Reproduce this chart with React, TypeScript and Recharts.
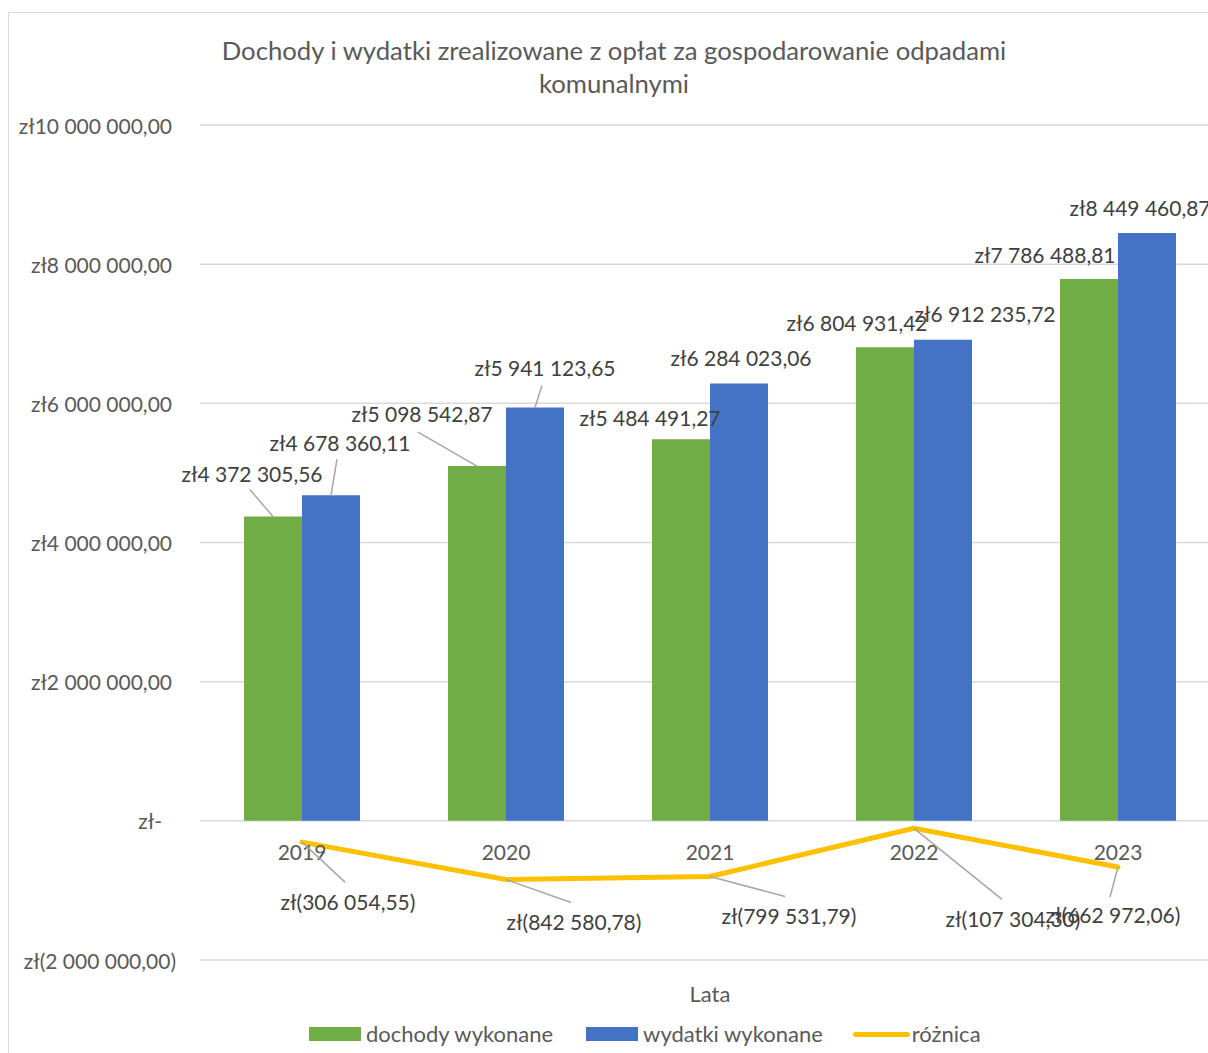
import React from "react";
import {
  ComposedChart,
  Bar,
  Line,
  XAxis,
  YAxis,
  CartesianGrid,
  LabelList,
} from "recharts";

const years = ["2019", "2020", "2021", "2022", "2023"];
const dochody = [4372305.56, 5098542.87, 5484491.27, 6804931.42, 7786488.81];
const wydatki = [4678360.11, 5941123.65, 6284023.06, 6912235.72, 8449460.87];
const roznica = [-306054.55, -842580.78, -799531.79, -107304.3, -662972.06];
const yTicks = [-2000000, 0, 2000000, 4000000, 6000000, 8000000, 10000000];

const FONT = "Lato, 'Open Sans', sans-serif";
const TXT = "#595959";
const LBL = "#404040";
const GREEN = "#70AD47";
const BLUE = "#4472C4";
const YELLOW = "#FFC000";

// label placement: [dx, dy, leaderDx, leaderDy, showLeader] relative to anchor / label centre
const greenPos = [
  [-21, -43, -2, 16, 1],
  [-55, -53, -4, 19, 1],
  [-31, -22, 0, 0, 0],
  [-28, -25, 0, 0, 0],
  [-44, -25, 0, 0, 0],
];
const bluePos = [
  [9, -53, -3, 17, 1],
  [10, -40, -3, 18, 1],
  [2, -26, 0, 0, 0],
  [42, -26, 0, 0, 0],
  [-7, -25, 0, 0, 0],
];
const linePos = [
  [46, 59, -3, -19, 1],
  [68, 42, -3, -19, 1],
  [79, 39, -4, -19, 1],
  [99, 90, -11, -19, 1],
  [-5, 48, -3, -18, 1],
];

const fmt = (v: number) => {
  if (v === 0) return "zł-";
  const [i, d] = Math.abs(v).toFixed(2).split(".");
  const s = i.replace(/\B(?=(\d{3})+(?!\d))/g, " ") + "," + d;
  return v < 0 ? `zł(${s})` : `zł${s}`;
};

const data = years.map((y, i) => ({
  year: y,
  dochody: dochody[i],
  wydatki: wydatki[i],
  roznica: roznica[i],
}));

const makeLabel = (pos: number[][], isBar: boolean) => (props: any) => {
  const { x, y, width, value, index } = props;
  const ax = isBar ? Number(x) + Number(width) / 2 : Number(x);
  const ay = Number(y);
  const p = pos[index];
  const cx = ax + p[0];
  const cy = ay + p[1];
  return (
    <g>
      {p[4] ? (
        <line x1={ax} y1={ay} x2={cx + p[2]} y2={cy + p[3]} stroke="#A6A6A6" strokeWidth={1.5} />
      ) : null}
      <text
        x={cx}
        y={cy}
        textAnchor="middle"
        dominantBaseline="central"
        fill={LBL}
        fontSize={21}
        fontFamily={FONT}
      >
        {fmt(value)}
      </text>
    </g>
  );
};

const YTick = (props: any) => {
  const { x, y, payload } = props;
  const v = payload.value;
  const dx = v === 0 ? -38 : v < 0 ? -24 : -28;
  return (
    <text x={x + dx} y={y} textAnchor="end" dominantBaseline="central" fill={TXT} fontSize={21} fontFamily={FONT}>
      {fmt(v)}
    </text>
  );
};

const XTick = (props: any) => {
  const { x, y, payload } = props;
  return (
    <text x={x} y={y - 109} textAnchor="middle" dominantBaseline="central" fill={TXT} fontSize={21} fontFamily={FONT}>
      {payload.value}
    </text>
  );
};

const legendItems = [
  { name: "dochody wykonane", color: GREEN, type: "rect", gap: 33 },
  { name: "wydatki wykonane", color: BLUE, type: "rect", gap: 30 },
  { name: "różnica", color: YELLOW, type: "line", gap: 0 },
];

export default function App() {
  return (
    <div style={{ position: "fixed", left: 0, top: 0, width: 1208, height: 1053, overflow: "hidden", background: "#fff" }}>
      <div style={{ position: "absolute", left: 8, top: 8, width: 1240, height: 1100, fontFamily: FONT }}>
        <div
          style={{
            position: "absolute",
            left: 0,
            top: 4,
            width: 1230,
            height: 1100,
            border: "1px solid #D9D9D9",
            boxSizing: "border-box",
          }}
        />
        <div
          style={{
            position: "absolute",
            left: 0,
            top: 26,
            width: 1212,
            textAlign: "center",
            color: TXT,
            fontSize: 25.7,
            lineHeight: "33px",
          }}
        >
          Dochody i wydatki zrealizowane z opłat za gospodarowanie odpadami
          <br />
          komunalnymi
        </div>
        <div style={{ position: "absolute", left: 0, top: 0 }}>
          <ComposedChart
            width={1240}
            height={1060}
            data={data}
            margin={{ top: 117, right: 28, left: 0, bottom: 0 }}
            barGap={0}
          >
            <CartesianGrid vertical={false} stroke="#D9D9D9" strokeWidth={1.5} />
            <XAxis
              dataKey="year"
              height={108}
              axisLine={false}
              tickLine={false}
              tickSize={0}
              tickMargin={0}
              tick={<XTick />}
              label={{ value: "Lata", position: "insideTop", offset: 26, fill: TXT, fontSize: 22, fontFamily: FONT }}
            />
            <YAxis
              width={192}
              domain={[-2000000, 10000000]}
              ticks={yTicks}
              axisLine={false}
              tickLine={false}
              tickSize={0}
              tickMargin={0}
              tick={<YTick />}
            />
            <Bar dataKey="dochody" fill={GREEN} barSize={58} isAnimationActive={false}>
              <LabelList dataKey="dochody" content={makeLabel(greenPos, true)} />
            </Bar>
            <Bar dataKey="wydatki" fill={BLUE} barSize={58} isAnimationActive={false}>
              <LabelList dataKey="wydatki" content={makeLabel(bluePos, true)} />
            </Bar>
            <Line
              dataKey="roznica"
              stroke={YELLOW}
              strokeWidth={5}
              dot={false}
              type="linear"
              strokeLinecap="round"
              strokeLinejoin="round"
              isAnimationActive={false}
            >
              <LabelList dataKey="roznica" content={makeLabel(linePos, false)} />
            </Line>
          </ComposedChart>
        </div>
        <div
          style={{
            position: "absolute",
            left: 301,
            top: 1012,
            display: "flex",
            alignItems: "center",
            color: TXT,
            fontSize: 22,
            lineHeight: "28px",
            whiteSpace: "nowrap",
          }}
        >
          {legendItems.map((it, i) => (
            <div key={i} style={{ display: "flex", alignItems: "center", marginRight: it.gap }}>
              {it.type === "rect" ? (
                <span style={{ display: "inline-block", width: 52, height: 14, background: it.color, marginRight: 5 }} />
              ) : (
                <span
                  style={{ display: "inline-block", width: 57, height: 5, borderRadius: 3, background: it.color, marginRight: 2 }}
                />
              )}
              <span>{it.name}</span>
            </div>
          ))}
        </div>
      </div>
    </div>
  );
}
